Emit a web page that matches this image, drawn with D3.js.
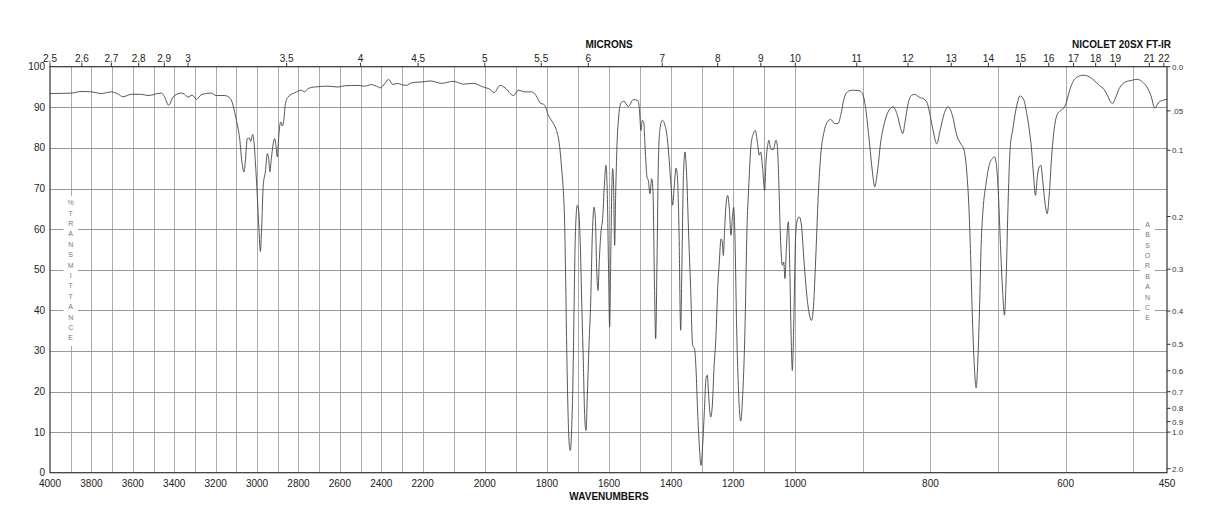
<!DOCTYPE html>
<html><head><meta charset="utf-8">
<script src="https://cdn.jsdelivr.net/npm/d3@7"></script>
<style>body{margin:0;background:#fff}svg{display:block}text{font-family:"Liberation Sans",Arial,Helvetica,sans-serif}</style>
</head><body><svg id="c" width="1218" height="528"></svg>
<script>
// ---- data ----
const wavenumbers = [4000,3997,3897,3849,3800,3752,3704,3672,3648,3607,3559,3527,3462,3446,3427,3406,3366,3350,3334,3314,3293,3269,3221,3197,3157,3128,3116,3100,3084,3073,3063,3057,3047,3037,3031,3021,3015,3008,2999,2991,2984,2978,2970,2960,2950,2944,2938,2931,2915,2909,2902,2896,2886,2878,2870,2864,2851,2818,2786,2770,2754,2722,2658,2609,2577,2513,2480,2448,2424,2403,2384,2365,2344,2323,2303,2279,2255,2223,
2213,2176,2139,2101,2069,2037,2005,1983,1970,1951,1935,1908,1892,1870,1849,1835,1822,1808,1795,1779,1769,1760,1752.5,1747,1743,1739.6,1736.3,1732,1727.8,1724.5,1720.3,1716,1712.7,1708.4,1702,1697.7,1693.4,1687,1682.7,1678.4,1674,1669.8,1664.4,1659,1653.7,1648.3,1644,1639.7,1635.4,1631,1625.8,1620.4,1615,1609.7,1605.4,1601,1598,1594.6,1591.4,1588.2,1585,1581.8,1578.6,1574.3,1568.9,1561.4,1551.7,1537.8,1521.7,1507.7,1502.3,1497,1492.7,1488.4,1483,1477.6,1473.4,1468,1462.6,1458.3,1454,1449.7,1445.4,1441,1435.8,1428.3,1419.7,1412.2,1405.7,1400.3,1395,1389.6,1384.2,1380,1374.6,1369.2,1365,1360.6,1355.3,1349.9,1343.4,1337,1330.6,1324.1,1319.8,1314.5,1309.1,1303.7,1298.4,1293,1287.6,1283.3,1279,1272.6,1267.2,1261.9,1255.4,1250,1244.7,1239.3,1235,1231.8,1227.5,1223.2,1217.8,1212.5,1207.1,1202.8,1198.5,1194.2,1188.9,1183.5,1176,1169.5,1162,1155.6,1150.2,1142.7,1135.2,1128.7,1122.3,1115.9,1111.6,1105.1,1098.7,1094.4,1089,1084.7,1079.4,1070.8,1062.3,1058,1052.5,1047.2,1041.8,1037.5,1033.2,1028.9,1022.5,1018.2,1013.9,1009.6,1005.3,1001.5,
999.5,997,994,991,987,983,979,976,973,970,966,962.4,957.5,952.6,947.6,941.7,936.8,932.8,927.9,923,915.6,905.7,900.7,895.8,890.9,885.9,882.5,878.5,873.6,867.7,861.3,855.3,848.9,844,841,837.6,833.1,828.2,823.2,816.8,809.4,804.5,800.5,795.6,790.7,785.7,779.8,773.9,767.5,761.1,755.1,750.2,746.3,742.8,740.3,737.9,735.4,732.4,730,727.5,725,722.1,718.1,713.2,708.2,705.3,702.3,699.4,696.4,693.4,690.5,688,685.5,682.1,678.1,673.2,667.3,662.3,657.9,654,650.5,647.5,644.6,641.6,639.1,636.7,633.7,630.7,627.3,624.3,620.9,616.9,612,608,603.1,599.6,594.7,589.8,582.4,573.5,565.1,557.7,550.3,543,538,534,530.5,527,520.7,513.3,503.4,493.5,486.1,479.7,473.8,467.9,463,456.5,450];
const transmittance = [93.4,93.4,93.5,93.9,93.8,93.4,93.8,93.3,92.6,93.2,93.2,92.9,93.5,92.5,90.5,92.5,93.5,93.2,92.5,93.0,92.0,93.1,93.5,92.9,92.9,92.1,90.5,86.8,82.3,76.5,74.1,76.5,82.3,82.4,81.6,83.3,81.5,76.5,68.3,60.1,54.5,60.1,70.8,74.1,78.6,77.4,74.1,77.4,82.3,80.6,77.8,82.3,86.4,85.4,87.2,90.5,92.5,93.6,94.2,93.8,94.6,95.0,95.2,95.0,95.3,95.4,95.2,95.6,95.2,94.8,95.8,96.9,95.6,95.9,95.6,95.4,96.0,96.2,
96.2,96.5,95.9,96.4,95.7,95.9,95.0,94.4,93.6,95.4,94.8,92.9,94.2,93.8,93.8,92.9,91.1,90.6,88.0,86.0,84.3,81.0,74.9,69.2,61.8,47.8,31.4,15.0,6.7,5.5,10.8,23.2,39.6,58.5,65.9,64.6,58.5,39.6,27.3,14.1,10.4,19.0,31.4,42.0,58.5,65.4,62.6,50.3,44.9,52.7,59.3,62.6,70.8,75.7,68.3,47.8,35.9,51.9,68.3,74.9,70.0,56.0,68.3,80.6,87.6,91.1,91.5,90.2,91.9,91.7,89.7,84.3,86.8,86.4,79.0,72.8,72.0,68.7,72.4,69.2,48.6,33.0,51.9,76.5,84.7,86.8,85.6,82.3,76.5,70.8,65.9,70.8,75.0,73.2,60.1,35.1,51.9,72.4,79.0,73.2,58.5,45.3,31.4,30.4,25.6,15.0,6.7,1.8,6.7,15.0,23.2,24.0,19.0,13.7,16.6,25.6,33.8,45.3,51.9,57.6,56.8,53.5,60.1,65.9,68.3,65.0,58.5,62.6,65.4,57.6,35.5,21.5,12.7,19.0,35.5,60.1,70.0,80.6,83.5,84.3,81.5,78.2,79.0,74.9,69.5,76.5,80.6,81.9,79.8,79.6,81.9,80.6,70.0,56.8,51.1,51.9,47.8,55.2,61.8,51.9,35.5,25.2,35.5,50.3,
58.5,62.2,63.0,61.0,51.9,43.7,38.8,37.5,41.2,51.9,68.3,78.2,83.9,86.4,87.0,86.0,86.0,88.0,92.1,93.8,94.2,94.1,93.4,89.7,82.3,74.1,70.4,74.1,81.5,86.4,89.3,90.1,88.0,84.7,83.5,86.4,90.9,92.9,93.2,92.5,92.0,90.9,88.0,83.9,81.0,84.3,88.4,90.1,88.0,83.1,81.0,79.4,74.1,64.2,51.9,37.9,27.3,20.9,27.3,39.6,56.0,65.0,70.8,75.7,77.4,77.8,75.7,68.3,56.0,45.3,38.8,47.8,64.2,79.8,84.7,89.7,92.8,92.0,88.8,84.7,79.8,73.3,68.3,73.3,75.3,75.7,71.6,66.7,63.8,68.3,77.4,84.7,88.4,89.1,89.8,90.9,93.8,96.1,97.5,97.9,97.5,96.6,95.4,94.4,92.9,91.5,90.9,92.0,94.6,96.1,96.6,96.9,96.2,95.0,92.9,89.8,91.1,91.7,92.0];

const wnTicks = [4000,3800,3600,3400,3200,3000,2800,2600,2400,2200,2000,1800,1600,1400,1200,1000,800,600,450];
const micronTicks = ["2.5","2.6","2.7","2.8","2.9","3","3.5","4","4.5","5","5.5","6","7","8","9","10","11","12","13","14","15","16","17","18","19","21","22"];
const transTicks = [0,10,20,30,40,50,60,70,80,90,100];
const absTicks = ["0.0",".05","0.1","0.2","0.3","0.4","0.5","0.6","0.7","0.8","0.9","1.0","2.0"];
const leftLetters = ["%","T","R","A","N","S","M","I","T","T","A","N","C","E"];
const rightLetters = ["A","B","S","O","R","B","A","N","C","E"];

// ---- scales ----
const L=50, R=1167, T=66.7, B=472.7;
const x = d3.scaleLinear().domain([4000,2200,1000,450]).range([L,422.7,795.3,R]);
const y = d3.scaleLinear().domain([0,100]).range([B,T]);
const svg = d3.select("#c");
svg.append("rect").attr("width",1218).attr("height",528).attr("fill","#fff");

// grid
const vg = d3.range(3900,449,-100);
svg.append("g").selectAll("line").data(vg).join("line")
  .attr("x1",d=>Math.round(x(d))+0.5).attr("x2",d=>Math.round(x(d))+0.5)
  .attr("y1",T).attr("y2",B).attr("stroke","#aaa").attr("stroke-width",1);
svg.append("g").selectAll("line").data(d3.range(10,100,10)).join("line")
  .attr("y1",d=>Math.round(y(d))+0.5).attr("y2",d=>Math.round(y(d))+0.5)
  .attr("x1",L).attr("x2",R).attr("stroke","#999").attr("stroke-width",1);

// label backgrounds
svg.append("rect").attr("x",63.5).attr("y",196).attr("width",14.5).attr("height",150).attr("fill","#fff");
svg.append("rect").attr("x",1140).attr("y",217).attr("width",15).attr("height",108).attr("fill","#fff");
svg.append("g").selectAll("text").data(leftLetters).join("text")
  .attr("x",70.7).attr("y",(d,i)=>202.7+i*10.4+2.5).attr("text-anchor","middle")
  .attr("font-size",7).attr("fill","#777").text(d=>d);
svg.append("g").selectAll("text").data(rightLetters).join("text")
  .attr("x",1147.5).attr("y",(d,i)=>224.3+i*10.4+2.5).attr("text-anchor","middle")
  .attr("font-size",7).attr("fill","#777").text(d=>d);

// spectrum
const pts = wavenumbers.map((w,i)=>[w,transmittance[i]]);
svg.append("path").datum(pts)
  .attr("d",d3.line().x(d=>x(d[0])).y(d=>y(d[1])).curve(d3.curveMonotoneX))
  .attr("fill","none").attr("stroke","#444").attr("stroke-width",0.9);

// frame
svg.append("rect").attr("x",L).attr("y",T).attr("width",R-L).attr("height",B-T)
  .attr("fill","none").attr("stroke","#333").attr("stroke-width",1.2);

// left axis labels
svg.append("g").selectAll("text").data(transTicks).join("text")
  .attr("x",45).attr("y",d=>y(d)+3.5).attr("text-anchor","end")
  .attr("font-size",10).attr("fill","#222").text(d=>d);

// bottom labels
svg.append("g").selectAll("text").data(wnTicks).join("text")
  .attr("x",d=>x(d)).attr("y",487).attr("text-anchor","middle")
  .attr("font-size",10).attr("fill","#222").text(d=>d);
svg.append("text").attr("x",609).attr("y",500).attr("text-anchor","middle")
  .attr("font-size",10).attr("font-weight","bold").attr("fill","#111").text("WAVENUMBERS");

// top micron axis
const mg = svg.append("g");
mg.selectAll("line").data(micronTicks).join("line")
  .attr("x1",d=>x(10000/+d)).attr("x2",d=>x(10000/+d)).attr("y1",T-4).attr("y2",T)
  .attr("stroke","#333").attr("stroke-width",1);
mg.selectAll("text").data(micronTicks).join("text")
  .attr("x",d=>x(10000/+d)).attr("y",61.5).attr("text-anchor","middle")
  .attr("font-size",10).attr("fill","#222").text(d=>d);
svg.append("text").attr("x",609).attr("y",48).attr("text-anchor","middle")
  .attr("font-size",10).attr("font-weight","bold").attr("fill","#111").text("MICRONS");
svg.append("text").attr("x",1171).attr("y",48).attr("text-anchor","end")
  .attr("font-size",10).attr("font-weight","bold").attr("fill","#111").text("NICOLET 20SX FT-IR");

// right absorbance axis
const ag = svg.append("g");
const absY = d=>y(100*Math.pow(10,-parseFloat(d)));
ag.selectAll("line").data(absTicks).join("line")
  .attr("x1",R).attr("x2",R+3.5).attr("y1",absY).attr("y2",absY)
  .attr("stroke","#333").attr("stroke-width",1);
ag.selectAll("text").data(absTicks).join("text")
  .attr("x",R+5).attr("y",d=>absY(d)+3).attr("font-size",8).attr("fill","#333").text(d=>d);
</script></body></html>
